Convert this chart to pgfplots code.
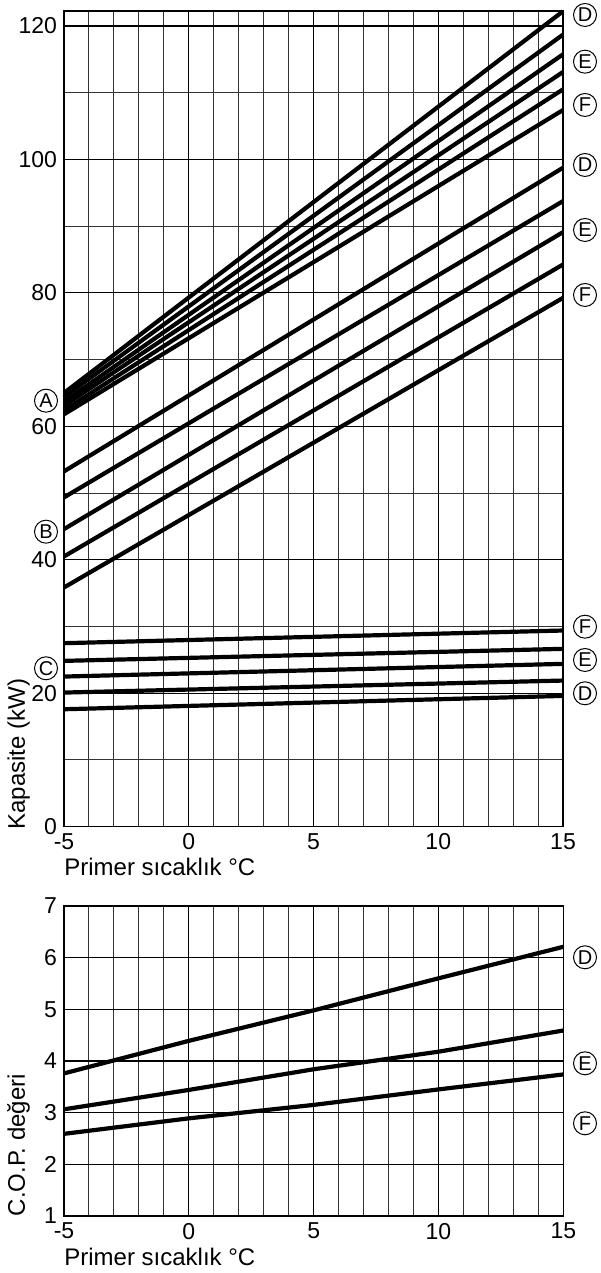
\documentclass[border=0pt]{standalone}
\usepackage{fontspec}
\setmainfont{Liberation Sans}
\usepackage{pgfplots}
\pgfplotsset{compat=1.18}

\pgfplotsset{
  chart/.style={
    scale only axis, clip=false,
    xmin=-5, xmax=15,
    xtick={-5,0,5,10,15}, xticklabels={-5,0,5,10,15},
    minor x tick num=4,
    grid=both,
    major grid style={black, line width=0.55pt},
    minor grid style={black!80, line width=0.5pt},
    major tick length=0pt, minor tick length=0pt,
    axis line style={line width=0.8pt},
    tick label style={font=\fontsize{11.5}{13}\selectfont},
  },
  curve/.style={black, line width=2.1pt},
}
\tikzset{
  lbl/.style={draw, circle, line width=0.5pt, minimum size=11.5pt, inner sep=0pt,
    font=\fontsize{10}{11}\selectfont},
  axlbl/.style={anchor=base west, inner sep=0pt, font=\fontsize{12}{14}\selectfont},
}

\begin{document}
\begin{tikzpicture}
\useasboundingbox (0pt,0pt) rectangle (300pt,636.5pt);

% capacity
\begin{axis}[chart,
  at={(32pt,223.15pt)}, anchor=south west,
  width=249.5pt, height=407.7pt,
  ymin=0, ymax=122.2,
  ytick={0,20,...,120}, yticklabels={0,20,40,60,80,100,120},
  minor y tick num=1,
]
% group A
\addplot[curve] coordinates {(-5,65.0) (15,122.2)};
\addplot[curve] coordinates {(-5,64.4) (15,118.7)};
\addplot[curve] coordinates {(-5,63.7) (15,115.75)};
\addplot[curve] coordinates {(-5,63.1) (15,113.1)};
\addplot[curve] coordinates {(-5,62.4) (15,110.5)};
\addplot[curve] coordinates {(-5,61.8) (15,107.4)};
% group B
\addplot[curve] coordinates {(-5,53.25) (15,98.75)};
\addplot[curve] coordinates {(-5,49.35) (15,93.75)};
\addplot[curve] coordinates {(-5,44.6) (15,89.1)};
\addplot[curve] coordinates {(-5,40.5) (15,84.25)};
\addplot[curve] coordinates {(-5,35.85) (15,79.25)};
% group C
\addplot[curve] coordinates {(-5,27.5) (15,29.4)};
\addplot[curve] coordinates {(-5,24.85) (15,26.65)};
\addplot[curve] coordinates {(-5,22.5) (15,24.4)};
\addplot[curve] coordinates {(-5,20.1) (15,21.9)};
\addplot[curve] coordinates {(-5,17.6) (15,19.6)};
\end{axis}

% COP
\begin{axis}[chart,
  at={(32pt,28.5pt)}, anchor=south west,
  width=249.65pt, height=155pt,
  ymin=1, ymax=7,
  ytick={1,...,7}, yticklabels={1,2,3,4,5,6,7},
]
\addplot[curve] coordinates {(-5,3.76) (0,4.39) (5,4.98) (10,5.6) (15,6.21)};
\addplot[curve] coordinates {(-5,3.065) (0,3.44) (5,3.84) (10,4.18) (15,4.59)};
\addplot[curve] coordinates {(-5,2.59) (0,2.89) (5,3.15) (10,3.45) (15,3.74)};
\end{axis}

% axis labels
\node[axlbl] at (32pt,198.5pt) {Primer sıcaklık °C};
\node[axlbl, rotate=90] at (12.5pt,221.5pt) {Kapasite (kW)};
\node[axlbl] at (32pt,3.5pt) {Primer sıcaklık °C};
\node[axlbl, rotate=90] at (12.5pt,28.15pt) {C.O.P. değeri};

% circled markers
\node[lbl] at (292.5pt,629pt) {D};
\node[lbl] at (292.5pt,605.65pt) {E};
\node[lbl] at (292.5pt,584pt) {F};
\node[lbl] at (292.5pt,554pt) {D};
\node[lbl] at (292.5pt,521.5pt) {E};
\node[lbl] at (292.5pt,489pt) {F};
\node[lbl] at (292.5pt,323.15pt) {F};
\node[lbl] at (292.5pt,306.5pt) {E};
\node[lbl] at (292.5pt,289.85pt) {D};
\node[lbl] at (23pt,436.15pt) {A};
\node[lbl] at (23pt,370.65pt) {B};
\node[lbl] at (23pt,302.35pt) {C};
\node[lbl] at (292.5pt,157.85pt) {D};
\node[lbl] at (292.5pt,104.85pt) {E};
\node[lbl] at (292.5pt,74.85pt) {F};
\end{tikzpicture}
\end{document}
